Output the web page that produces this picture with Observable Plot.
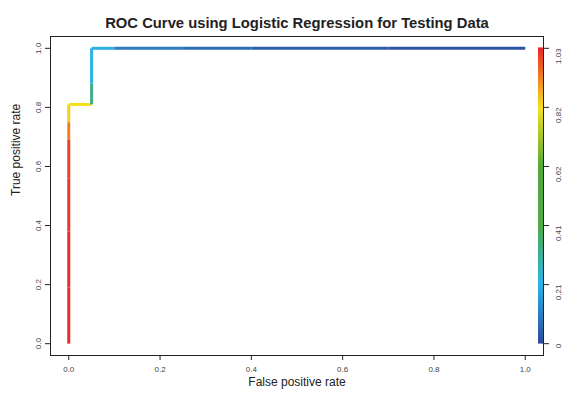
<!DOCTYPE html>
<html><head><meta charset="utf-8">
<script src="https://cdn.jsdelivr.net/npm/d3@7"></script>
<script src="https://cdn.jsdelivr.net/npm/@observablehq/plot@0.6"></script>
<style>
body{margin:0;background:#fff;}
svg{font-family:"Liberation Sans",Arial,Helvetica,sans-serif;}
</style>
</head><body><div id="chart"></div>
<script>
// ROC points (false positive rate, true positive rate) and the cutoff colouring each step
const fpr    = [0, 0, 0, 0, 0, 0, 0, 0.05, 0.05, 0.05, 0.1, 0.25, 0.4, 0.7, 1.0];
const tpr    = [0, 0.19, 0.38, 0.56, 0.69, 0.75, 0.81, 0.81, 0.88, 1.0, 1.0, 1.0, 1.0, 1.0, 1.0];
const cutoff = [1.03, 1.02, 1.02, 1.01, 1.0, 0.93, 0.84, 0.82, 0.33, 0.22, 0.2, 0.1, 0.07, 0.04, 0.02];
const axisTicks = [0, 0.2, 0.4, 0.6, 0.8, 1.0];
const cutTicks = [0, 0.21, 0.41, 0.62, 0.82, 1.03];
const cutLabels = ["0", "0.21", "0.41", "0.62", "0.82", "1.03"];
const palette = ["#2d4a9b", "#2bb5e8", "#4faa46", "#55a93a", "#f4e11c", "#e9262b"];
const title = "ROC Curve using Logistic Regression for Testing Data";

const segs = d3.range(fpr.length - 1).map(i => ({
  x1: fpr[i], y1: tpr[i], x2: fpr[i + 1], y2: tpr[i + 1], c: cutoff[i + 1]
}));
const nStrip = 160;
const strips = d3.range(nStrip).map(i => ({
  y1: i / nStrip, y2: (i + 1) / nStrip, c: (i + 0.5) / nStrip * cutTicks[cutTicks.length - 1]
}));

const chart = Plot.plot({
  width: 562, height: 395,
  marginLeft: 50, marginRight: 19, marginTop: 36, marginBottom: 40,
  style: {fontFamily: '"Liberation Sans",Arial,sans-serif', background: "#fff", color: "#333"},
  x: {domain: [-0.04, 1.04]},
  y: {domain: [-0.04, 1.04]},
  color: {type: "linear", domain: cutTicks, range: palette, interpolate: "rgb"},
  marks: [
    Plot.link(segs, {x1: "x1", y1: "y1", x2: "x2", y2: "y2", stroke: "c", strokeWidth: 3, strokeLinecap: "butt"}),
    Plot.rect(strips, {x1: 1.0295, x2: 1.04, y1: "y1", y2: "y2", fill: "c", stroke: "c", strokeWidth: 0.6, inset: 0, shapeRendering: "crispEdges"}),
    Plot.frame({stroke: "#222", strokeWidth: 1}),
    Plot.axisX({ticks: axisTicks, tickSize: 5, tickPadding: 6, tickFormat: d3.format(".1f"), fontSize: 8, label: null, stroke: "#222", fill: "#444"}),
    Plot.axisY({ticks: axisTicks, tickSize: 5, tickPadding: 5, tickRotate: -90, tickFormat: d3.format(".1f"), fontSize: 8, label: null, stroke: "#222", fill: "#444"}),
    Plot.axisY({anchor: "right", ticks: axisTicks, tickSize: 5, label: null, stroke: "#222", fill: "none"}),
    Plot.text(axisTicks, {y: d => d, frameAnchor: "right", dx: 15, rotate: -90, text: (d, i) => cutLabels[i], fontSize: 8, fill: "#444"}),
    Plot.text([title], {frameAnchor: "top", dy: -19, text: d => d, fontSize: 14.8, fontWeight: "bold", fill: "#222"}),
    Plot.text(["False positive rate"], {frameAnchor: "bottom", dy: 30, text: d => d, fontSize: 12, fill: "#222"}),
    Plot.text(["True positive rate"], {frameAnchor: "left", dx: -34, rotate: -90, text: d => d, fontSize: 12, fill: "#222"})
  ]
});
document.getElementById("chart").appendChild(chart);
</script>
</body></html>
